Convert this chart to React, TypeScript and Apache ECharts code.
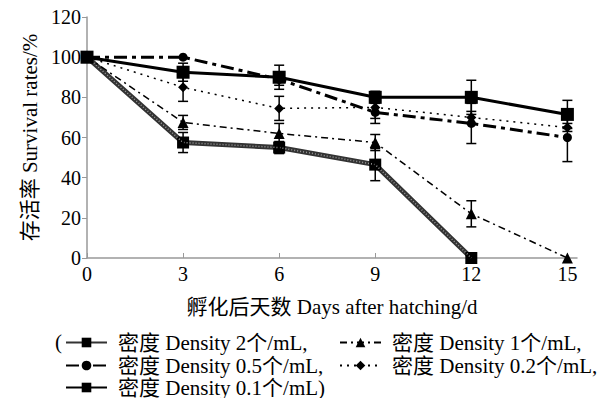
import React, { useEffect, useRef } from "react";
import * as echarts from "echarts";

const days = [0, 3, 6, 9, 12, 15];
const xTicks = [0, 3, 6, 9, 12, 15];

const nameD2 = "密度 Density 2个/mL";
const nameD1 = "密度 Density 1个/mL";
const nameD05 = "密度 Density 0.5个/mL";
const nameD02 = "密度 Density 0.2个/mL";
const nameD01 = "密度 Density 0.1个/mL";

const d2 = [100, 57.5, 55, 46.5, 0];
const d2Err = [0, 5, 3, 8, 0];
const d1 = [100, 67.5, 62, 57.5, 22, 0];
const d1Err = [0, 3.5, 5, 4, 6.5, 0];
const d05 = [100, 100, 89, 72.5, 67, 60];
const d05Err = [0, 0, 3, 5.5, 10, 12];
const d02 = [100, 85, 74.5, 75, 70, 65];
const d02Err = [0, 7, 6, 5.5, 3, 2];
const d01 = [100, 92.5, 90, 80, 80, 71.5];
const d01Err = [0, 4.5, 6, 3, 8.5, 7];

const FONT = "'Liberation Serif', 'Times New Roman', 'Noto Sans CJK SC', serif";

function pts(vals: number[]) {
  return vals.map((v, i) => [days[i], v]);
}
function errPts(vals: number[], errs: number[]) {
  return vals.map((v, i) => [days[i], v, errs[i]]).filter((p) => p[2] > 0);
}

export default function App() {
  const ref = useRef<HTMLDivElement>(null);
  useEffect(() => {
    document.body.style.margin = "0";
    if (!ref.current) return;
    const chart = echarts.init(ref.current, null, { renderer: "svg" });
    const errSeries = (vals: number[], errs: number[]) => ({
      type: "custom",
      data: errPts(vals, errs),
      z: 5,
      silent: true,
      renderItem: (params: any, api: any) => {
        const x = api.value(0);
        const y = api.value(1);
        const e = api.value(2);
        const top = api.coord([x, y + e]);
        const bot = api.coord([x, y - e]);
        const hw = 5;
        const st = { stroke: "#000", lineWidth: 1.5 };
        return {
          type: "group",
          children: [
            { type: "line", shape: { x1: top[0], y1: top[1], x2: bot[0], y2: bot[1] }, style: st },
            { type: "line", shape: { x1: top[0] - hw, y1: top[1], x2: top[0] + hw, y2: top[1] }, style: st },
            { type: "line", shape: { x1: bot[0] - hw, y1: bot[1], x2: bot[0] + hw, y2: bot[1] }, style: st },
          ],
        };
      },
    });
    const legendBase = {
      orient: "horizontal",
      itemWidth: 41,
      itemHeight: 12,
      padding: 0,
      textStyle: { fontFamily: FONT, fontSize: 21, color: "#000", padding: [0, 0, 0, 6] },
    };
    chart.setOption({
      animation: false,
      backgroundColor: "#fff",
      grid: { left: 87, right: 39, top: 17, bottom: 140 },
      xAxis: {
        type: "value",
        min: 0,
        max: 15.3,
        interval: 3,
        name: "孵化后天数 Days after hatching/d",
        nameLocation: "middle",
        nameGap: 38,
        nameTextStyle: { fontFamily: FONT, fontSize: 21, color: "#000" },
        axisLine: { lineStyle: { color: "#999", width: 1.5 } },
        axisTick: { inside: true, length: 5, lineStyle: { color: "#999" }, customValues: xTicks },
        axisLabel: { fontFamily: FONT, fontSize: 20, color: "#000", margin: 6, customValues: xTicks },
        splitLine: { show: false },
      },
      yAxis: {
        type: "value",
        min: 0,
        max: 120,
        interval: 20,
        name: "存活率 Survival rates/%",
        nameLocation: "middle",
        nameGap: 47,
        nameRotate: 90,
        nameTextStyle: { fontFamily: FONT, fontSize: 21, color: "#000" },
        axisLine: { show: true, lineStyle: { color: "#999", width: 1.5 } },
        axisTick: { show: true, length: 5, lineStyle: { color: "#999" } },
        axisLabel: { fontFamily: FONT, fontSize: 20, color: "#000", margin: 6 },
        splitLine: { show: false },
      },
      legend: [
        { ...legendBase, left: 65, top: 332, data: [nameD2], formatter: (n: string) => n + "," },
        { ...legendBase, left: 339, top: 332, data: [nameD1], formatter: (n: string) => n + "," },
        { ...legendBase, left: 65, top: 355, data: [nameD05], formatter: (n: string) => n + "," },
        { ...legendBase, left: 339, top: 355, data: [nameD02], formatter: (n: string) => n + "," },
        { ...legendBase, left: 65, top: 377, data: [nameD01], formatter: (n: string) => n + ")" },
      ],
      graphic: [
        {
          type: "text",
          left: 55,
          top: 331,
          style: { text: "(", fontFamily: FONT, fontSize: 21, fill: "#000" },
        },
      ],
      series: [
        {
          name: nameD2,
          type: "line",
          data: pts(d2),
          symbol: "rect",
          symbolSize: 12,
          z: 2,
          itemStyle: { color: "#000" },
          lineStyle: { color: "#333", width: 5 },
        },
        {
          name: "d2-texture",
          type: "line",
          data: pts(d2),
          symbol: "none",
          z: 3,
          silent: true,
          lineStyle: { color: "#999", width: 1.5, type: [1, 2] },
        },
        {
          name: nameD1,
          type: "line",
          data: pts(d1),
          symbol: "triangle",
          symbolSize: 11,
          z: 4,
          itemStyle: { color: "#000" },
          lineStyle: { color: "#000", width: 1.5, type: [7, 4, 2, 4] },
        },
        {
          name: nameD05,
          type: "line",
          data: pts(d05),
          symbol: "circle",
          symbolSize: 9,
          z: 4,
          itemStyle: { color: "#000" },
          lineStyle: { color: "#000", width: 3, type: [13, 5, 4, 5] },
        },
        {
          name: nameD02,
          type: "line",
          data: pts(d02),
          symbol: "diamond",
          symbolSize: 10,
          z: 4,
          itemStyle: { color: "#000" },
          lineStyle: { color: "#000", width: 1.5, type: [2, 5] },
        },
        {
          name: nameD01,
          type: "line",
          data: pts(d01),
          symbol: "rect",
          symbolSize: 13,
          z: 4,
          itemStyle: { color: "#000" },
          lineStyle: { color: "#000", width: 3 },
        },
        errSeries(d2, d2Err),
        errSeries(d1, d1Err),
        errSeries(d05, d05Err),
        errSeries(d02, d02Err),
        errSeries(d01, d01Err),
      ],
    });
    return () => chart.dispose();
  }, []);
  return <div ref={ref} style={{ width: 616, height: 398 }} />;
}
